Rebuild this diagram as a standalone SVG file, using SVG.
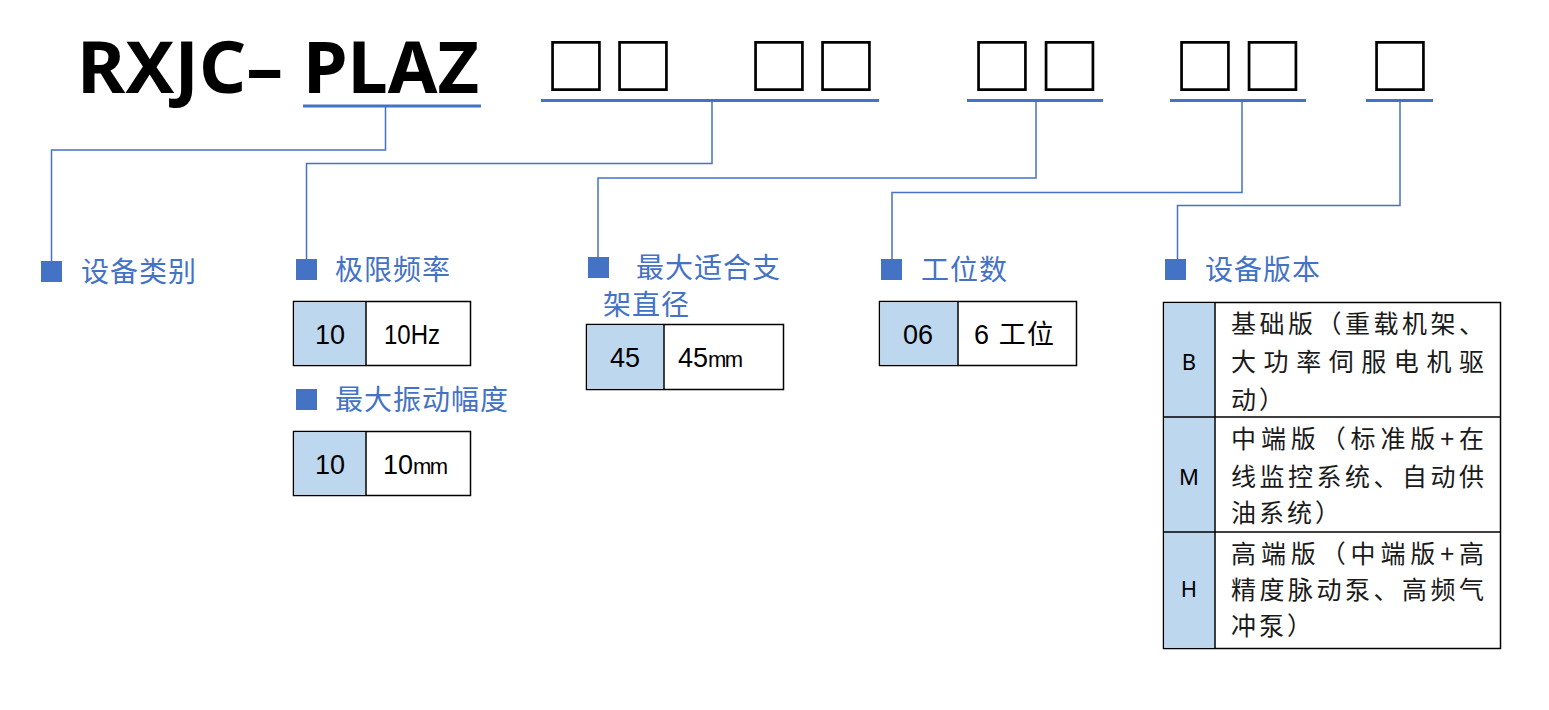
<svg xmlns="http://www.w3.org/2000/svg" width="1549" height="710" viewBox="0 0 1549 710">
<style>
.title{font-family:"Noto Sans","Open Sans","Liberation Sans",sans-serif;font-weight:bold;font-size:71px;fill:#000}
.sq{font-family:"Noto Sans CJK SC","DejaVu Sans",sans-serif;font-weight:bold;font-size:62px;fill:#000;text-anchor:middle}
.ul{fill:#4472C4}
.conn{fill:none;stroke:#4472C4;stroke-width:1.5}
.bul{fill:#4472C4}
.lbl{font-family:"Noto Sans CJK SC",sans-serif;font-size:28px;fill:#4472C4;letter-spacing:1px}
.box{fill:#fff;stroke:#000;stroke-width:1.5}
.code{fill:#BDD7EE}
.div{stroke:#000;stroke-width:1.5}
.num{font-family:"Liberation Sans","Noto Sans CJK SC",sans-serif;font-size:27px;fill:#000}
.mm{font-size:22px;letter-spacing:-1.5px}
.numc{font-family:"Liberation Sans",sans-serif;font-size:27px;fill:#000;text-anchor:middle}
.ver{font-family:"Noto Sans CJK SC",sans-serif;font-size:25px;fill:#1a1a1a;letter-spacing:3px}
.verj{font-family:"Noto Sans CJK SC",sans-serif;font-size:25px;fill:#1a1a1a}
.vc{font-family:"Noto Sans",sans-serif;font-size:22px;fill:#000;text-anchor:middle}
</style>
<g id="title">
<text class="title" x="77" y="93" textLength="206" lengthAdjust="spacingAndGlyphs">RXJC–</text>
<text class="title" x="303" y="93" textLength="176" lengthAdjust="spacingAndGlyphs">PLAZ</text>
<rect class="ul" x="303" y="104.5" width="178" height="3"/>
</g>
<g id="code-fields">
<text class="sq" x="576" y="90">□</text><text class="sq" x="643" y="90">□</text>
<text class="sq" x="779" y="90">□</text><text class="sq" x="846" y="90">□</text>
<rect class="ul" x="541" y="99" width="338" height="3"/>
<text class="sq" x="1002" y="90">□</text><text class="sq" x="1069.5" y="90">□</text>
<rect class="ul" x="967" y="99" width="136" height="3"/>
<text class="sq" x="1205" y="90">□</text><text class="sq" x="1272.5" y="90">□</text>
<rect class="ul" x="1170" y="99" width="136" height="3"/>
<text class="sq" x="1400" y="90">□</text>
<rect class="ul" x="1366" y="99" width="67" height="3"/>
</g>
<g id="connectors">
<polyline class="conn" points="385.5,107 385.5,150 51.5,150 51.5,262"/>
<polyline class="conn" points="712,102 712,163.5 306.5,163.5 306.5,260"/>
<polyline class="conn" points="1036,102 1036,178 598,178 598,258"/>
<polyline class="conn" points="1242,102 1242,192.5 892,192.5 892,260"/>
<polyline class="conn" points="1400,102 1400,205.5 1177.5,205.5 1177.5,260"/>
</g>
<g id="n-category">
<rect class="bul" x="41" y="261" width="21" height="21"/>
<text class="lbl" x="81" y="282">设备类别</text>
</g>
<g id="n-frequency">
<rect class="bul" x="296" y="259" width="21" height="21"/>
<text class="lbl" x="335" y="280">极限频率</text>
<rect class="box" x="293.5" y="301.5" width="177" height="64"/>
<rect class="code" x="294.25" y="302.25" width="71.5" height="62.5"/>
<line class="div" x1="366" y1="301.5" x2="366" y2="365.5"/>
<text class="numc" x="330" y="344">10</text>
<text class="num" x="384" y="344" textLength="56" lengthAdjust="spacingAndGlyphs">10Hz</text>
</g>
<g id="n-amplitude">
<rect class="bul" x="296" y="389" width="21" height="21"/>
<text class="lbl" x="335" y="410">最大振动幅度</text>
<rect class="box" x="293.5" y="431.5" width="177" height="64"/>
<rect class="code" x="294.25" y="432.25" width="71.5" height="62.5"/>
<line class="div" x1="366" y1="431.5" x2="366" y2="495.5"/>
<text class="numc" x="330" y="474">10</text>
<text class="num" x="383" y="474">10<tspan class="mm">mm</tspan></text>
</g>
<g id="n-diameter">
<rect class="bul" x="588" y="257" width="21" height="21"/>
<text class="lbl" x="636" y="278">最大适合支</text>
<text class="lbl" x="603" y="315">架直径</text>
<rect class="box" x="586.5" y="324.5" width="197" height="65"/>
<rect class="code" x="587.25" y="325.25" width="76.5" height="63.5"/>
<line class="div" x1="664" y1="324.5" x2="664" y2="389.5"/>
<text class="numc" x="625" y="367">45</text>
<text class="num" x="678" y="367">45<tspan class="mm">mm</tspan></text>
</g>
<g id="n-stations">
<rect class="bul" x="881" y="259" width="21" height="21"/>
<text class="lbl" x="921" y="280">工位数</text>
<rect class="box" x="879.5" y="301.5" width="197" height="64"/>
<rect class="code" x="880.25" y="302.25" width="77.5" height="62.5"/>
<line class="div" x1="958" y1="301.5" x2="958" y2="365.5"/>
<text class="numc" x="918" y="344">06</text>
<text class="num" x="974" y="344" textLength="80" lengthAdjust="spacing">6 工位</text>
</g>
<g id="n-version">
<rect class="bul" x="1165" y="259" width="21" height="21"/>
<text class="lbl" x="1205" y="280">设备版本</text>
<rect class="box" x="1163.5" y="302.5" width="337" height="346"/>
<rect class="code" x="1164.25" y="303.25" width="50.5" height="344.5"/>
<line class="div" x1="1215" y1="302.5" x2="1215" y2="648.5"/>
<line class="div" x1="1163.5" y1="417" x2="1500.5" y2="417"/>
<line class="div" x1="1163.5" y1="532" x2="1500.5" y2="532"/>
<text class="vc" x="1189" y="370">B</text>
<text class="verj" x="1231" y="333" textLength="253" lengthAdjust="spacing">基础版（重载机架、</text>
<text class="verj" x="1231" y="371" textLength="253" lengthAdjust="spacing">大功率伺服电机驱</text>
<text class="ver" x="1231" y="409">动）</text>
<text class="vc" x="1189" y="485">M</text>
<text class="verj" x="1231" y="448" textLength="253" lengthAdjust="spacing">中端版（标准版+在</text>
<text class="verj" x="1231" y="486" textLength="253" lengthAdjust="spacing">线监控系统、自动供</text>
<text class="ver" x="1231" y="522">油系统）</text>
<text class="vc" x="1189" y="597">H</text>
<text class="verj" x="1231" y="563" textLength="253" lengthAdjust="spacing">高端版（中端版+高</text>
<text class="verj" x="1231" y="599" textLength="253" lengthAdjust="spacing">精度脉动泵、高频气</text>
<text class="ver" x="1231" y="635">冲泵）</text>
</g>
</svg>
